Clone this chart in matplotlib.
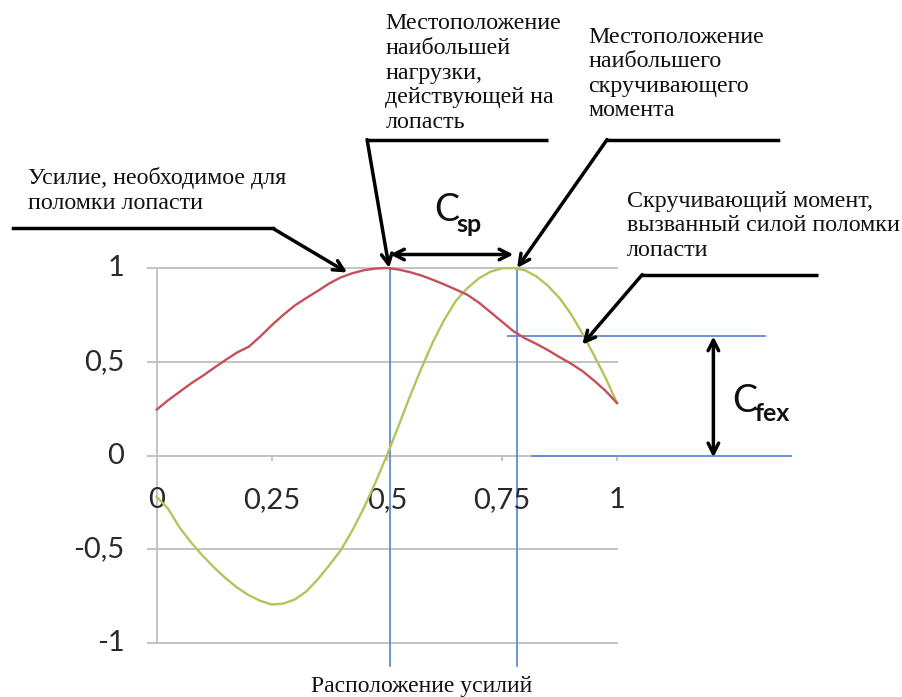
import matplotlib
matplotlib.use("Agg")
import matplotlib.pyplot as plt

# Blade position along span (relative)
x_pos = [0.0, 0.025, 0.05, 0.075, 0.10, 0.125, 0.15, 0.175, 0.20, 0.225,
         0.25, 0.275, 0.30, 0.325, 0.35, 0.375, 0.40, 0.425, 0.45, 0.475,
         0.50, 0.525, 0.55, 0.575, 0.60, 0.625, 0.65, 0.675, 0.70, 0.725,
         0.75, 0.775, 0.80, 0.825, 0.85, 0.875, 0.90, 0.925, 0.95, 0.975, 1.0]
# Force needed to break the blade (normalised)
break_force = [0.245, 0.295, 0.34, 0.385, 0.425, 0.468, 0.51, 0.55, 0.58, 0.635,
               0.695, 0.75, 0.80, 0.84, 0.878, 0.918, 0.95, 0.972, 0.988, 0.997,
               1.0, 0.992, 0.978, 0.96, 0.937, 0.912, 0.885, 0.857, 0.815, 0.765,
               0.714, 0.663, 0.625, 0.595, 0.562, 0.525, 0.49, 0.45, 0.40, 0.345, 0.28]
# Twisting moment caused by the breaking force (normalised)
twist_moment = [-0.22, -0.285, -0.385, -0.465, -0.535, -0.598, -0.655, -0.705, -0.745, -0.775,
                -0.795, -0.79, -0.768, -0.725, -0.66, -0.585, -0.505, -0.40, -0.28, -0.145,
                0.0, 0.155, 0.315, 0.465, 0.605, 0.725, 0.825, 0.893, 0.945, 0.98,
                0.998, 1.0, 0.988, 0.955, 0.905, 0.84, 0.755, 0.65, 0.535, 0.415, 0.28]

x_ticks = [0, 0.25, 0.5, 0.75, 1]
x_tick_labels = ["0", "0,25", "0,5", "0,75", "1"]
y_ticks = [-1, -0.5, 0, 0.5, 1]
y_tick_labels = ["-1", "-0,5", "0", "0,5", "1"]

max_load_x = 0.507
max_twist_x = 0.783
fex_level = 0.64

W, H = 903, 697
fig = plt.figure(figsize=(W / 100, H / 100), dpi=100)
fig.patch.set_facecolor("white")
left, right = 156.7 / W, 617 / W
bottom, top = (H - 643) / H, (H - 268) / H
ax = fig.add_axes([left, bottom, right - left, top - bottom])
ax.set_xlim(0, 1)
ax.set_ylim(-1, 1)

grid_c = "#C3C3C3"
for yv in y_ticks:
    ax.plot([-0.019, 1.0], [yv, yv], color=grid_c, lw=1.4, clip_on=False, zorder=1)
ax.plot([0, 0], [-1, 1], color=grid_c, lw=1.4, clip_on=False, zorder=1)
for xv in x_ticks[1:]:
    ax.plot([xv, xv], [0, -0.025], color=grid_c, lw=1.4, clip_on=False, zorder=1)

for s in ax.spines.values():
    s.set_visible(False)
ax.set_xticks([])
ax.set_yticks([])

tick_font = dict(family="Lato", fontsize=21, color="#2a2a2a")
for xv, lab in zip(x_ticks, x_tick_labels):
    ax.text(xv, -0.24, lab, ha="center", va="center", **tick_font)
for yv, lab in zip(y_ticks, y_tick_labels):
    ax.text(-0.07, yv, lab, ha="right", va="center", **tick_font)

# curves
ax.plot(x_pos, break_force, color="#C4505C", lw=1.7, zorder=4, clip_on=False)
ax.plot(x_pos, twist_moment, color="#B5C35E", lw=1.7, zorder=3, clip_on=False)

# blue marker lines
blue = "#5F8BD2"
for xv in (max_load_x, max_twist_x):
    ax.plot([xv, xv], [1.0, -1.125], color=blue, lw=1.3, clip_on=False, zorder=2)
ax.plot([0.764, 1.322], [fex_level, fex_level], color=blue, lw=1.3, clip_on=False, zorder=2)
ax.plot([0.816, 1.377], [0.0, 0.0], color=blue, lw=1.3, clip_on=False, zorder=2)

serif = dict(family="Liberation Serif", fontsize=17.3, color="#111111", linespacing=1.22)
arrow_kw = dict(arrowstyle="->,head_length=0.75,head_width=0.38", lw=2.5, color="black",
                shrinkA=0, shrinkB=0)
dbl = dict(arrowstyle="<->,head_length=0.75,head_width=0.38", lw=2.5, color="black",
           shrinkA=0, shrinkB=0)


def leader(x_start, x_end, y, tip):
    """Horizontal shelf with a slanted arrow running from its start to the tip."""
    ax.plot([x_start, x_end], [y, y], color="black", lw=2.5, clip_on=False,
            solid_capstyle="butt")
    ax.annotate("", xy=tip, xytext=(x_start, y), arrowprops=arrow_kw,
                annotation_clip=False)


# breaking force
ax.plot([-0.3124, 0.2528], [1.2107, 1.2107], color="black", lw=2.5, clip_on=False)
ax.annotate("", xy=(0.4137, 0.976), xytext=(0.2528, 1.2107), arrowprops=arrow_kw,
            annotation_clip=False)
ax.text(-0.28, 1.413, "Усилие, необходимое для\nполомки лопасти", ha="left", va="center", **serif)

# location of highest load
leader(0.457, 0.85, 1.685, (0.505, 1.0))
ax.text(0.497, 2.04, "Местоположение\nнаибольшей\nнагрузки,\nдействующей на\nлопасть",
        ha="left", va="center", **serif)

# location of highest twisting moment
ax.plot([0.9785, 1.3507], [1.685, 1.685], color="black", lw=2.5, clip_on=False)
ax.annotate("", xy=(0.783, 1.0), xytext=(0.9785, 1.685), arrowprops=arrow_kw,
            annotation_clip=False)
ax.text(0.938, 2.035, "Местоположение\nнаибольшего\nскручивающего\nмомента",
        ha="left", va="center", **serif)

# twisting moment from the breaking force
leader(1.055, 1.4376, 0.965, (0.9246, 0.592))
ax.text(1.022, 1.225, "Скручивающий момент,\nвызванный силой поломки\nлопасти",
        ha="left", va="center", **serif)

# C_sp span
ax.annotate("", xy=(max_load_x, 1.072), xytext=(0.775, 1.072), arrowprops=dbl,
            annotation_clip=False)
ax.text(0.603, 1.31, "C", fontsize=27, family="Lato", ha="left", va="center", color="#111")
ax.text(0.650, 1.232, "sp", fontsize=18, family="Lato", fontweight="bold", ha="left",
        va="center", color="#111")

# C_fex span
ax.annotate("", xy=(1.2094, fex_level - 0.005), xytext=(1.2094, -0.01), arrowprops=dbl,
            annotation_clip=False)
ax.text(1.25, 0.29, "C", fontsize=27, family="Lato", ha="left", va="center", color="#111")
ax.text(1.298, 0.225, "fex", fontsize=18, family="Lato", fontweight="bold", ha="left",
        va="center", color="#111")

ax.text(0.5746, -1.232, "Расположение усилий", ha="center", va="center",
        family="Liberation Serif", fontsize=17, color="#111111")

fig.savefig("out.png", dpi=100, facecolor="white")
